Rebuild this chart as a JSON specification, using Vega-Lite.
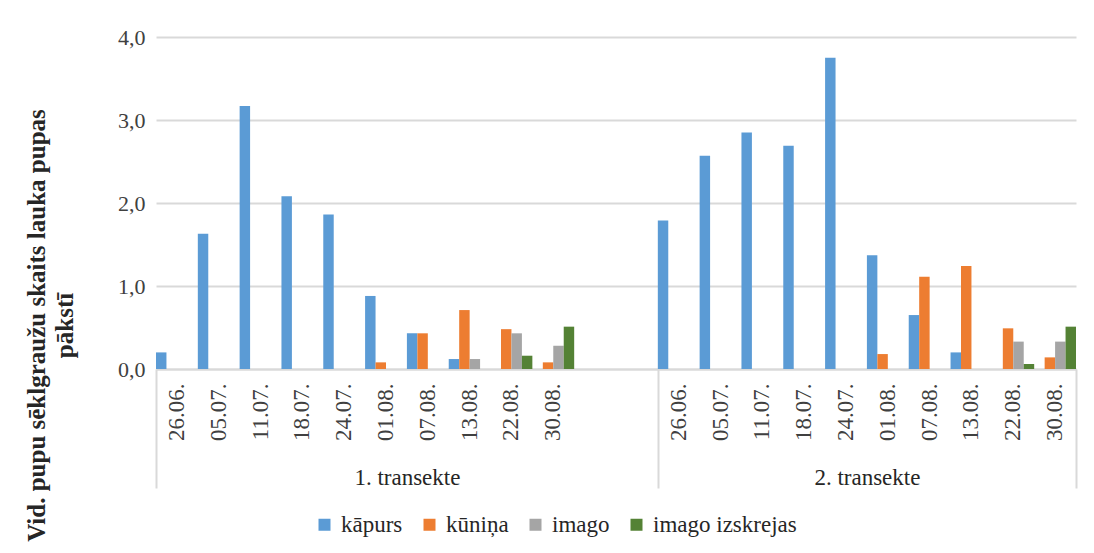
{
  "$schema": "https://vega.github.io/schema/vega-lite/v6.json",
  "width": 920,
  "height": 332,
  "autosize": "none",
  "padding": {"left": 156, "top": 37, "right": 18, "bottom": 184},
  "background": "white",
  "config": {
    "font": "Liberation Serif",
    "view": {"stroke": null}
  },
  "layer": [
    {
      "data": {
        "values": [
          {"transekte": "1. transekte", "datums": "26.06.", "stadija": "kāpurs", "vertiba": 0.20},
          {"transekte": "1. transekte", "datums": "05.07.", "stadija": "kāpurs", "vertiba": 1.63},
          {"transekte": "1. transekte", "datums": "11.07.", "stadija": "kāpurs", "vertiba": 3.17},
          {"transekte": "1. transekte", "datums": "18.07.", "stadija": "kāpurs", "vertiba": 2.08},
          {"transekte": "1. transekte", "datums": "24.07.", "stadija": "kāpurs", "vertiba": 1.86},
          {"transekte": "1. transekte", "datums": "01.08.", "stadija": "kāpurs", "vertiba": 0.88},
          {"transekte": "1. transekte", "datums": "01.08.", "stadija": "kūniņa", "vertiba": 0.08},
          {"transekte": "1. transekte", "datums": "07.08.", "stadija": "kāpurs", "vertiba": 0.43},
          {"transekte": "1. transekte", "datums": "07.08.", "stadija": "kūniņa", "vertiba": 0.43},
          {"transekte": "1. transekte", "datums": "13.08.", "stadija": "kāpurs", "vertiba": 0.12},
          {"transekte": "1. transekte", "datums": "13.08.", "stadija": "kūniņa", "vertiba": 0.71},
          {"transekte": "1. transekte", "datums": "13.08.", "stadija": "imago", "vertiba": 0.12},
          {"transekte": "1. transekte", "datums": "22.08.", "stadija": "kūniņa", "vertiba": 0.48},
          {"transekte": "1. transekte", "datums": "22.08.", "stadija": "imago", "vertiba": 0.43},
          {"transekte": "1. transekte", "datums": "22.08.", "stadija": "imago izskrejas", "vertiba": 0.16},
          {"transekte": "1. transekte", "datums": "30.08.", "stadija": "kūniņa", "vertiba": 0.08},
          {"transekte": "1. transekte", "datums": "30.08.", "stadija": "imago", "vertiba": 0.28},
          {"transekte": "1. transekte", "datums": "30.08.", "stadija": "imago izskrejas", "vertiba": 0.51},
          {"transekte": "2. transekte", "datums": "26.06.", "stadija": "kāpurs", "vertiba": 1.79},
          {"transekte": "2. transekte", "datums": "05.07.", "stadija": "kāpurs", "vertiba": 2.57},
          {"transekte": "2. transekte", "datums": "11.07.", "stadija": "kāpurs", "vertiba": 2.85},
          {"transekte": "2. transekte", "datums": "18.07.", "stadija": "kāpurs", "vertiba": 2.69},
          {"transekte": "2. transekte", "datums": "24.07.", "stadija": "kāpurs", "vertiba": 3.75},
          {"transekte": "2. transekte", "datums": "01.08.", "stadija": "kāpurs", "vertiba": 1.37},
          {"transekte": "2. transekte", "datums": "01.08.", "stadija": "kūniņa", "vertiba": 0.18},
          {"transekte": "2. transekte", "datums": "07.08.", "stadija": "kāpurs", "vertiba": 0.65},
          {"transekte": "2. transekte", "datums": "07.08.", "stadija": "kūniņa", "vertiba": 1.11},
          {"transekte": "2. transekte", "datums": "13.08.", "stadija": "kāpurs", "vertiba": 0.20},
          {"transekte": "2. transekte", "datums": "13.08.", "stadija": "kūniņa", "vertiba": 1.24},
          {"transekte": "2. transekte", "datums": "22.08.", "stadija": "kūniņa", "vertiba": 0.49},
          {"transekte": "2. transekte", "datums": "22.08.", "stadija": "imago", "vertiba": 0.33},
          {"transekte": "2. transekte", "datums": "22.08.", "stadija": "imago izskrejas", "vertiba": 0.06},
          {"transekte": "2. transekte", "datums": "30.08.", "stadija": "kūniņa", "vertiba": 0.14},
          {"transekte": "2. transekte", "datums": "30.08.", "stadija": "imago", "vertiba": 0.33},
          {"transekte": "2. transekte", "datums": "30.08.", "stadija": "imago izskrejas", "vertiba": 0.51}
        ]
      },
      "transform": [{"calculate": "datum.transekte + '|' + datum.datums", "as": "kat"}],
      "mark": {"type": "bar"},
      "encoding": {
        "x": {
          "field": "kat",
          "type": "nominal",
          "scale": {
            "domain": [
              "1. transekte|26.06.", "1. transekte|05.07.", "1. transekte|11.07.", "1. transekte|18.07.", "1. transekte|24.07.",
              "1. transekte|01.08.", "1. transekte|07.08.", "1. transekte|13.08.", "1. transekte|22.08.", "1. transekte|30.08.",
              "1. transekte|", "1. transekte| ",
              "2. transekte|26.06.", "2. transekte|05.07.", "2. transekte|11.07.", "2. transekte|18.07.", "2. transekte|24.07.",
              "2. transekte|01.08.", "2. transekte|07.08.", "2. transekte|13.08.", "2. transekte|22.08.", "2. transekte|30.08."
            ],
            "paddingInner": 0,
            "paddingOuter": 0
          },
          "axis": {
            "orient": "bottom",
            "title": null,
            "labelAngle": -90,
            "labelExpr": "split(datum.value, '|')[1]",
            "ticks": false,
            "domainColor": "#D9D9D9",
            "domainWidth": 2,
            "labelPadding": 14,
            "labelFontSize": 23,
            "labelColor": "#404040",
            "labelFont": "Liberation Serif"
          }
        },
        "xOffset": {
          "field": "stadija",
          "type": "nominal",
          "scale": {"domain": ["kāpurs", "kūniņa", "imago", "imago izskrejas"], "paddingInner": 0, "paddingOuter": 0}
        },
        "y": {
          "field": "vertiba",
          "type": "quantitative",
          "scale": {"domain": [0, 4], "nice": false},
          "axis": {
            "values": [0, 1, 2, 3, 4],
            "labelExpr": "replace(format(datum.value, '.1f'), '.', ',')",
            "grid": true,
            "gridColor": "#D9D9D9",
            "gridWidth": 2,
            "domain": false,
            "ticks": false,
            "labelPadding": 11,
            "labelFontSize": 22,
            "labelColor": "#404040",
            "labelFont": "Liberation Serif",
            "title": ["Vid. pupu sēklgraužu skaits lauka pupas", "pākstī"],
            "titleFont": "Liberation Serif",
            "titleFontSize": 25,
            "titleFontWeight": "bold",
            "titleColor": "#262626",
            "titleX": -120,
            "titleY": 288,
            "titleAngle": 270,
            "titleAlign": "center",
            "titleBaseline": "middle",
            "titleLineHeight": 28
          }
        },
        "color": {
          "field": "stadija",
          "type": "nominal",
          "scale": {
            "domain": ["kāpurs", "kūniņa", "imago", "imago izskrejas"],
            "range": ["#5B9BD5", "#ED7D31", "#A5A5A5", "#548235"]
          },
          "legend": {
            "orient": "none",
            "legendX": 157,
            "legendY": 476,
            "direction": "horizontal",
            "title": null,
            "padding": 0,
            "symbolType": "square",
            "symbolSize": 144,
            "symbolStrokeWidth": 0,
            "labelFont": "Liberation Serif",
            "labelFontSize": 23,
            "labelLimit": 300,
            "labelColor": "#262626",
            "labelOffset": 5,
            "columnPadding": 15
          }
        }
      }
    },
    {
      "data": {"values": [{"robeza": 0}, {"robeza": 12}, {"robeza": 22}]},
      "mark": {"type": "rule", "opacity": 0},
      "encoding": {
        "x": {
          "field": "robeza",
          "type": "quantitative",
          "scale": {"domain": [0, 22], "nice": false, "zero": false},
          "axis": {
            "orient": "bottom",
            "title": null,
            "values": [0, 6, 12, 17, 22],
            "labelExpr": "datum.value == 6 ? '1. transekte' : datum.value == 17 ? '2. transekte' : ''",
            "grid": false,
            "domain": false,
            "tickSize": 119,
            "tickColor": "#D9D9D9",
            "tickWidth": 2,
            "tickOpacity": {"condition": {"test": "datum.value == 6 || datum.value == 17", "value": 0}, "value": 1},
            "labelPadding": -22,
            "labelAngle": 0,
            "labelBaseline": "top",
            "labelFont": "Liberation Serif",
            "labelFontSize": 23,
            "labelColor": "#262626",
            "labelOverlap": false,
            "labelFlush": false
          }
        }
      }
    }
  ],
  "resolve": {"scale": {"x": "independent"}, "axis": {"x": "independent"}}
}
